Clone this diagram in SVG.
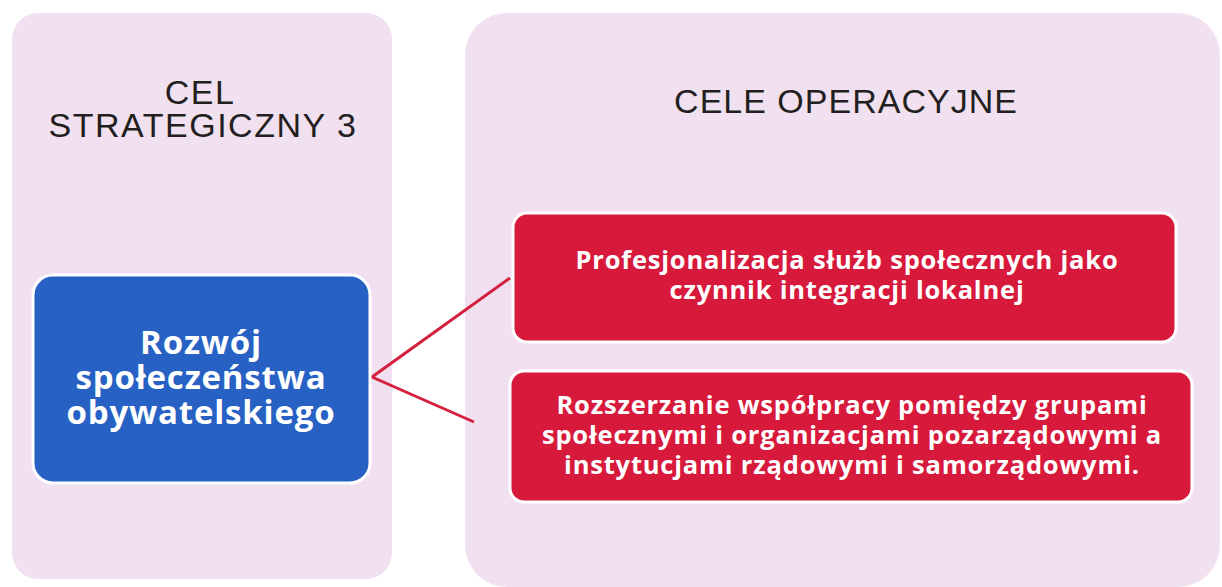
<svg xmlns="http://www.w3.org/2000/svg" width="1222" height="587" viewBox="0 0 1222 587">
<style>
.panel{fill:#f1e1f0}
.head{font-family:"Liberation Sans",Arial,sans-serif;font-size:34px;fill:#231f20;text-anchor:middle}
.box{stroke:#ffffff;stroke-width:3}
.blue{fill:#2761c4}
.red{fill:#d71a3b}
.lbl{font-family:"Open Sans","Liberation Sans",Arial,sans-serif;font-weight:bold;fill:#ffffff;text-anchor:middle}
.sm{font-size:25.5px;letter-spacing:0.8px}
.conn{fill:none;stroke:#d4203e;stroke-width:3}
</style>
<rect width="1222" height="587" fill="#ffffff"/>
<g id="panel-strategic">
<rect class="panel" x="12" y="13" width="380" height="566" rx="26"/>
<text class="head" x="200" y="104" letter-spacing="1.5">CEL</text>
<text class="head" x="203" y="137" letter-spacing="1.5">STRATEGICZNY 3</text>
</g>
<g id="panel-operational">
<rect class="panel" x="465" y="13" width="755" height="574" rx="42"/>
<text class="head" x="846" y="113" letter-spacing="1">CELE OPERACYJNE</text>
</g>
<g id="connectors">
<polyline class="conn" points="510,278 372,377 474,422"/>
</g>
<g id="node-strategic">
<rect class="box blue" x="33" y="275" width="337" height="208" rx="20"/>
<text class="lbl" font-size="33" letter-spacing="0.8" x="201" y="354">Rozwój</text>
<text class="lbl" font-size="33" letter-spacing="0.8" x="201" y="389">społeczeństwa</text>
<text class="lbl" font-size="33" letter-spacing="0.8" x="201" y="424">obywatelskiego</text>
</g>
<g id="node-op1">
<rect class="box red" x="513" y="213" width="663" height="129" rx="14"/>
<text class="lbl sm" x="847" y="269">Profesjonalizacja służb społecznych jako</text>
<text class="lbl sm" x="847" y="299">czynnik integracji lokalnej</text>
</g>
<g id="node-op2">
<rect class="box red" x="510" y="371" width="682" height="131" rx="14"/>
<text class="lbl sm" x="852" y="414">Rozszerzanie współpracy pomiędzy grupami</text>
<text class="lbl sm" x="852" y="444">społecznymi i organizacjami pozarządowymi a</text>
<text class="lbl sm" x="852" y="474">instytucjami rządowymi i samorządowymi.</text>
</g>
</svg>
